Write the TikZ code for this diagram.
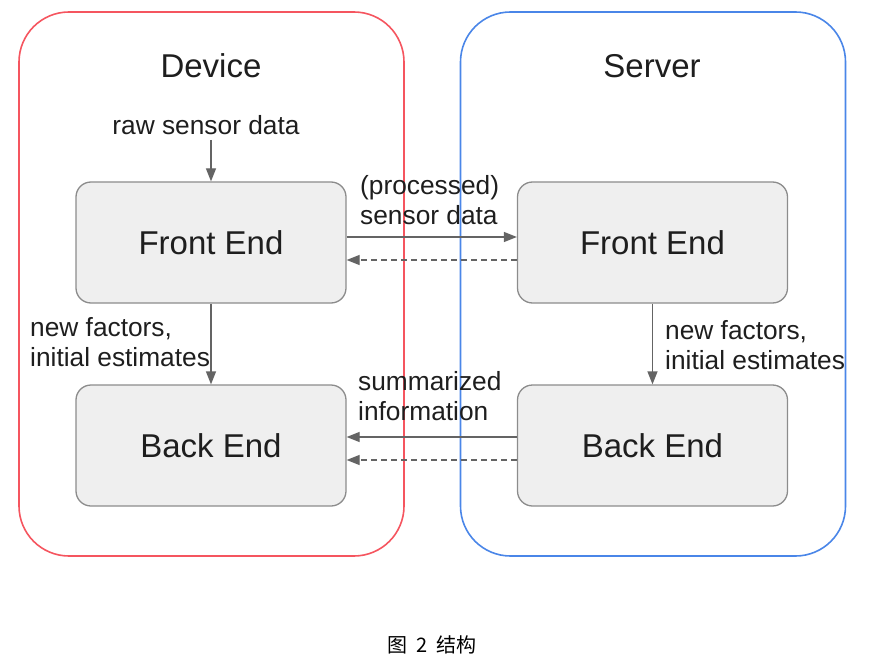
\documentclass[tikz,border=0pt]{standalone}
\usepackage{fontspec}
\setmainfont{Liberation Sans}
\newfontfamily\cjk{Noto Sans CJK SC}
\usetikzlibrary{arrows.meta}
\definecolor{devred}{RGB}{245,85,95}
\definecolor{srvblue}{RGB}{74,134,232}
\definecolor{boxfill}{RGB}{239,239,239}
\definecolor{boxline}{RGB}{140,140,140}
\definecolor{arrowgray}{RGB}{100,100,100}
\definecolor{txt}{RGB}{30,30,30}
\tikzset{
  container/.style={draw, line width=1.6pt, rounded corners=50pt, minimum width=385pt, minimum height=544pt, inner sep=0pt},
  title/.style={font=\fontsize{33}{38}\selectfont, text=txt},
  stepbox/.style={draw=boxline, fill=boxfill, line width=1.3pt, rounded corners=15pt, minimum width=270pt, minimum height=121pt, inner sep=0pt, font=\fontsize{33}{38}\selectfont, text=txt},
  lbl/.style={font=\fontsize{26.3}{29.5}\selectfont, text=txt, align=left, inner sep=0pt},
  conn/.style={draw=arrowgray, line width=1.3pt, -{Triangle[length=13pt,width=10pt]}, arrowgray},
  dconn/.style={conn, dash pattern=on 6pt off 4pt}
}
\begin{document}
\begin{tikzpicture}[x=1pt,y=-1pt]
\useasboundingbox (0,0) rectangle (874,668);
\node[container, draw=devred] (dev) at (211.5,284) {};
\node[container, draw=srvblue] (srv) at (653,284) {};
\node[title] (devt) at (211,66) {Device};
\node[title] (srvt) at (652,66) {Server};
\node[stepbox] (fel) at (211,242.5) {Front End};
\node[stepbox] (bel) at (211,445.5) {Back End};
\node[stepbox] (fer) at (652.5,242.5) {Front End};
\node[stepbox] (ber) at (652.5,445.5) {Back End};
\node[lbl] (raw) at (206,125) {raw sensor data};
\node[lbl, anchor=west] (proc) at (360,200) {(processed)\\sensor data};
\node[lbl, anchor=west] (summ) at (358,396) {summarized\\information};
\node[lbl, anchor=west] (nfl) at (30,342) {new factors,\\initial estimates};
\node[lbl, anchor=west] (nfr) at (665,345) {new factors,\\initial estimates};
\node[font=\cjk\fontsize{20}{24}\selectfont, text=black] (cap) at (432,645) {图\ \ 2\ \ 结构};
\coordinate (rawend) at (211,140);
\draw[conn] (rawend) -- (fel.north);
\draw[conn] ([yshift=5.5pt]fel.east) -- ([yshift=5.5pt]fer.west);
\draw[dconn] ([yshift=-17.5pt]fer.west) -- ([yshift=-17.5pt]fel.east);
\draw[conn] (fel.south) -- (bel.north);
\draw[conn] (fer.south) -- (ber.north);
\draw[conn] ([yshift=8.5pt]ber.west) -- ([yshift=8.5pt]bel.east);
\draw[dconn] ([yshift=-14.5pt]ber.west) -- ([yshift=-14.5pt]bel.east);
\end{tikzpicture}
\end{document}
